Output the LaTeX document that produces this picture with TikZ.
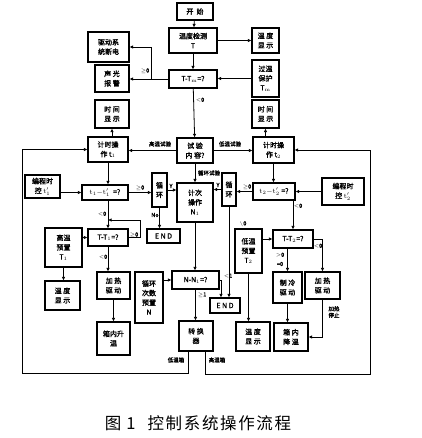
\documentclass[tikz,border=0pt]{standalone}
\usepackage{fontspec}
\newfontfamily\cjk[FakeBold=1.5]{Noto Sans CJK SC}
\newfontfamily\capfont[LetterSpace=10]{Noto Sans CJK SC}
\usetikzlibrary{arrows.meta}

\begin{document}
\begin{tikzpicture}[x=1pt,y=-1pt,
		box/.style={draw,line width=1.2pt,align=center,inner sep=0pt,font=\cjk\fontsize{7}{9.5}\selectfont},
		sz/.style 2 args={minimum width=#1pt,minimum height=#2pt},
		lab/.style={font=\cjk\fontsize{5.5}{6.5}\selectfont,inner sep=0.5pt,align=center},
		conn/.style={line width=0.8pt},
		arr/.style={line width=0.8pt,-{Latex[length=3.5pt,width=3.5pt]}}]
	\useasboundingbox (0,0) rectangle (421,438);

	% top part
	\node[box,sz={36}{17}] (start) at (195,11.5) {开\ \ 始};
	\node[box,sz={48}{25}] (detT) at (193,40.5) {温度检测\\T};
	\node[box,sz={41}{30}] (cutoff) at (108.5,47) {驱动系\\统断电};
	\node[box,sz={27}{25}] (showT) at (265.5,40.5) {温\ 度\\显\ 示};
	\node[box,sz={34}{27}] (alarm) at (112,78.5) {声\ 光\\报\ 警};
	\node[box,sz={48}{18}] (cmpTm) at (193,79) {T-T$_\mathrm{m}$=?};
	\node[box,sz={27}{37}] (protect) at (265.5,78.5) {过温\\保护\\T$_\mathrm{m}$};
	\node[box,sz={34}{28}] (timeL) at (112,114) {时\ 间\\显\ 示};
	\node[box,sz={27}{28}] (timeR) at (265.5,114) {时\ 间\\显\ 示};

	% middle part
	\node[box,sz={40}{25}] (hourL) at (108,149.5) {计时操\\作 t$_1$};
	\node[box,sz={36}{25}] (test) at (195,150.5) {试\ 验\\内\ 容?};
	\node[box,sz={41}{26}] (hourR) at (273.5,150) {计时操\\作 t$_2$};
	\node[box,sz={35}{23}] (progL) at (42.5,186.5) {编程时\\控 $\mathrm{t}'_1$};
	\node[box,sz={46}{15}] (cmpt1) at (105,192.5) {$\mathrm{t_1{-}t'_1}$\ \ =?};
	\node[box,sz={15}{34}] (loopL) at (159.5,190) {循\\环};
	\node[box,sz={36}{39}] (count) at (195,202.5) {计次\\操作\\N$_1$};
	\node[box,sz={14}{33}] (loopR) at (229,189.5) {循\\环};
	\node[box,sz={42}{17}] (cmpt2) at (274,191.5) {$\mathrm{t_2{-}t'_2}$\ =?};
	\node[box,sz={42}{27}] (progR) at (343,191.5) {编程时\\控 $\mathrm{t}'_2$};
	\node[box,sz={33}{14}] (endL) at (163.5,236) {E N D};

	% lower part
	\node[box,sz={40}{17}] (cmpT1) at (108,237.5) {T-T$_1$=?};
	\node[box,sz={37}{39}] (setT1) at (63.5,247.5) {高温\\预置\\T$_1$};
	\node[box,sz={35}{29}] (showT1) at (62.5,295.5) {温\ 度\\显\ 示};
	\node[box,sz={33}{27}] (heatL) at (113.5,285.5) {加\ 热\\驱\ 动};
	\node[box,sz={33}{33}] (riseL) at (113.5,338.5) {箱内升\\温};
	\node[box,sz={28}{51}] (setN) at (149,297.5) {循环\\次数\\预置\\N};
	\node[box,sz={47}{18}] (cmpN) at (195.5,280) {N-N$_1$=?};
	\node[box,sz={30}{15}] (endR) at (225,305.5) {E N D};
	\node[box,sz={34}{30}] (switch) at (196,336) {转\ 换\\器};
	\node[box,sz={27}{44}] (setT2) at (248.5,251) {低温\\预置\\T$_2$};
	\node[box,sz={40}{18}] (cmpT2) at (293,239) {T-T$_2$=?};
	\node[box,sz={29}{31}] (cool) at (287.5,287.5) {制\ 冷\\驱\ 动};
	\node[box,sz={35}{27}] (heatR) at (322.5,285.5) {加\ 热\\驱\ 动};
	\node[box,sz={34}{29}] (showT2) at (253,336.5) {温\ 度\\显\ 示};
	\node[box,sz={34}{28}] (fallR) at (291,337) {箱\ 内\\降\ 温};

	\coordinate (jA) at (151,79);
	\coordinate (back1) at (108,220);

	% connectors
	\draw[arr] (start) -- (detT);
	\draw[arr] (detT.east) -- (showT.west);
	\draw[arr] (detT) -- (cmpTm);
	\draw[arr] (cmpTm.west) -- (cmpTm.west -| alarm.east);
	\draw[arr] (jA) |- (cutoff.east);
	\draw[arr] (protect.west) -- (protect.west -| cmpTm.east);
	\draw[arr] (cmpTm) -- (test);
	\draw[arr] (hourL.north -| timeL) -- (timeL.south);
	\draw[arr] (hourR.north -| timeR) -- (timeR.south);
	\draw[arr] (test.west) -- (test.west -| hourL.east);
	\draw[arr] (test.east) -- (test.east -| hourR.west);
	\draw[arr] (test) -- (count);
	\draw[arr] (hourL) -- (hourL |- cmpt1.north);
	\draw[arr] (progL.east |- cmpt1) -- (cmpt1.west);
	\draw[arr] (cmpt1.east) -- (cmpt1.east -| loopL.west);
	\draw[arr] (loopL.east) -- (loopL.east -| count.west);
	\draw[arr] (loopL.south) -- (loopL.south |- endL.north);
	\draw[arr] (loopR.west) -- (loopR.west -| count.east);
	\draw[arr] (cmpt2.west) -- (cmpt2.west -| loopR.east);
	\draw[arr] (progR.west |- cmpt2) -- (cmpt2.east);
	\draw[arr] (hourR) -- (hourR |- cmpt2.north);
	\draw[arr] (cmpt2.south -| cmpT2) -- (cmpT2.north);
	\draw[arr] (cmpt1.south -| cmpT1) -- (cmpT1.north);
	\draw[arr] (cmpT1.east) -- ++(12,0) |- (back1);
	\draw[arr] (setT1.east |- cmpT1) -- (cmpT1.west);
	\draw[arr] (setT1.south) -- (setT1.south |- showT1.north);
	\draw[arr] (cmpT1.south) -- (cmpT1.south |- heatL.north);
	\draw[arr] (heatL) -- (riseL);
	\draw[arr] (setN.east |- cmpN) -- (cmpN.west);
	\draw[arr] (count.south) -- (count.south |- cmpN.north);
	\draw[arr] (cmpN.east) -| ([xshift=-4pt]endR.north);
	\draw[arr] (loopR.south) -- (loopR.south |- endR.north);
	\draw[arr] (cmpN.south) -- (cmpN.south |- switch.north);
	\draw[arr] ([xshift=-8pt]switch.south) |- (22,373) |- (hourL.west);
	\draw[arr] ([xshift=9pt]switch.south) |- (370,374) |- (hourR.east);
	\draw[arr] (setT2.east |- cmpT2) -- (cmpT2.west);
	\draw[arr] (setT2.south) -- (setT2.south |- showT2.north);
	\draw[arr] (cool.north |- cmpT2.south) -- (cool.north);
	\draw[arr] (cmpT2.east) -| (heatR.north);
	\draw[arr] (cool.south) -- (cool.south |- fallR.north);
	\draw[arr] (heatR.south) |- (fallR.east);

	% labels
	\node[lab] (l1) at (145,71) {$\geq$0};
	\node[lab] (l2) at (200,100) {$<$0};
	\node[lab] (l3) at (160,144) {高温试验};
	\node[lab] (l4) at (230,144) {低温试验};
	\node[lab] (l5) at (209,173) {循环试验};
	\node[lab] (l6) at (140,188) {$\geq$0};
	\node[lab] (l7) at (171,186) {Y};
	\node[lab] (l8) at (155,215) {No};
	\node[lab] (l9) at (218,185) {Y};
	\node[lab] (l10) at (247,187) {$\geq$0};
	\node[lab] (l11) at (298,206) {$<$0};
	\node[lab] (l12) at (102,214) {$<$0};
	\node[lab] (l13) at (134,235) {$\geq$0};
	\node[lab] (l14) at (103,257) {$<$0};
	\node[lab] (l15) at (228,276) {$<$1};
	\node[lab] (l16) at (202,295) {$\geq$1};
	\node[lab] (l17) at (176,360) {低温箱};
	\node[lab] (l18) at (217,360) {高温箱};
	\node[lab] (l19) at (243,224) {$\setminus$0};
	\node[lab] (l20) at (280,255) {$>$0};
	\node[lab] (l21) at (280,264) {=0};
	\node[lab] (l22) at (318,246) {$<$0};
	\node[lab] (l23) at (334,312) {加热\\停止};

	\node[font=\capfont\fontsize{16.5}{16.5}\selectfont] (cap) at (198,423) {图\hspace{5pt}1\hspace{12pt}控制系统操作流程};
\end{tikzpicture}
\end{document}
